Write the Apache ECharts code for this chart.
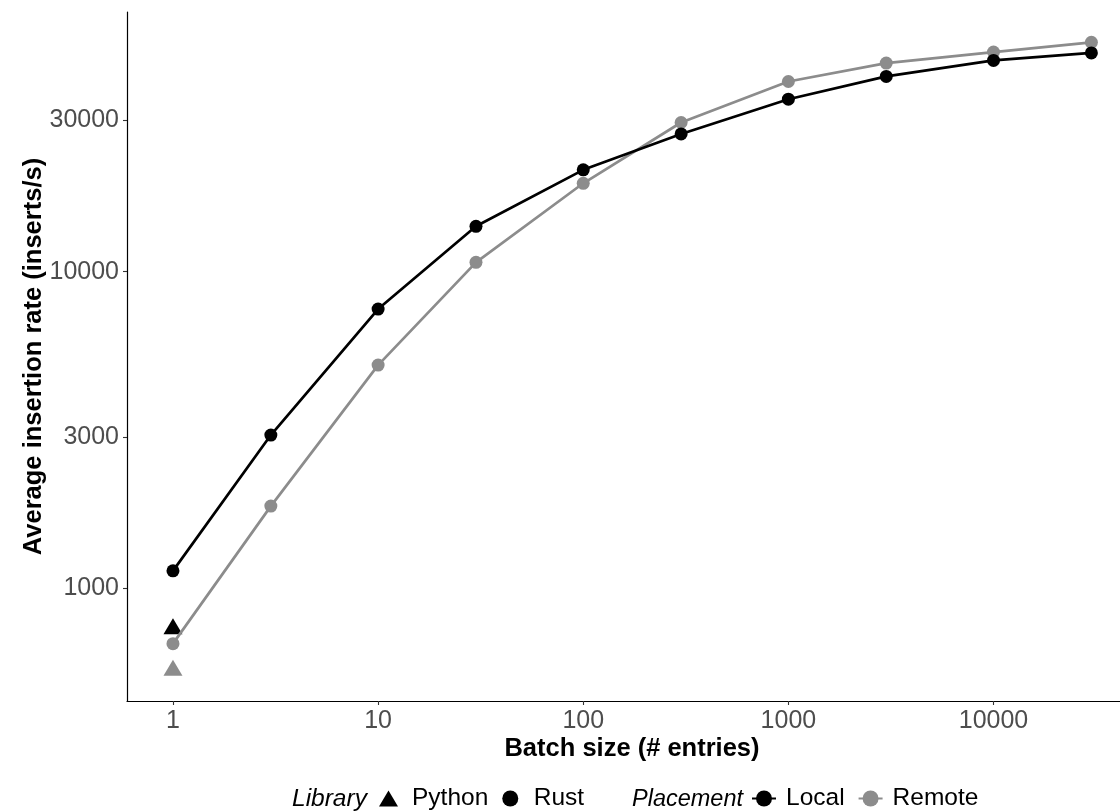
<!DOCTYPE html>
<html>
<head>
<meta charset="utf-8">
<script src="https://cdn.jsdelivr.net/npm/echarts@6/dist/echarts.min.js"></script>
<style>html,body{margin:0;padding:0;background:#fff}#chart{width:1120px;height:811px}</style>
</head>
<body>
<div id="chart"></div>
<script>
// ---- data ----
const batchSizes = [1, 3, 10, 30, 100, 300, 1000, 3000, 10000, 30000];
const rustLocal  = [1137, 3050, 7620, 13900, 20950, 27200, 35000, 41300, 46400, 49000];
const rustRemote = [670, 1820, 5070, 10700, 19000, 29550, 39800, 45500, 49300, 52900];
const pythonBatch = [1];
const pythonLocal = [760];
const pythonRemote = [562];
const xTicks = [1, 10, 100, 1000, 10000];
const yTicks = [1000, 3000, 10000, 30000];

const BLACK = '#000000', GREY = '#8C8C8C';
const FONT = '"Liberation Sans", Arial, Helvetica, sans-serif';

const pairs = (xs, ys) => xs.map((x, i) => [x, ys[i]]);

const chart = echarts.init(document.getElementById('chart'), null, {renderer: 'canvas'});
const lineSeries = (name, color, ys) => ({
  name: name, type: 'line', data: pairs(batchSizes, ys),
  symbol: 'circle', symbolSize: 13, showSymbol: true,
  lineStyle: {color: color, width: 2.7}, itemStyle: {color: color, opacity: 1},
  emphasis: {disabled: true}
});
const titleStyle = {fontFamily: FONT, fontSize: 25.5, fontWeight: 'bold', color: '#000'};
chart.setOption({
  animation: false,
  grid: {left: 127, top: 12, right: 0, bottom: 110, outerBoundsMode: 'none', containLabel: false},
  xAxis: {
    type: 'log', logBase: 10, min: 0.5969, max: 41360,
    name: 'Batch size (# entries)', nameLocation: 'middle', nameGap: 35, nameMoveOverlap: false,
    nameTextStyle: Object.assign({padding: [0, 0, 0, 17]}, titleStyle),
    axisLine: {lineStyle: {color: '#000', width: 1.2}},
    axisTick: {show: true, length: 4, lineStyle: {color: '#333', width: 1.1}, customValues: xTicks},
    axisLabel: {fontFamily: FONT, fontSize: 25, color: '#4D4D4D', margin: 8, customValues: xTicks,
      formatter: v => String(v)},
    splitLine: {show: false}, minorTick: {show: false}
  },
  yAxis: {
    type: 'log', logBase: 10, min: 441.6, max: 65960,
    name: 'Average insertion rate (inserts/s)', nameLocation: 'middle', nameGap: 80, nameRotate: 90,
    nameMoveOverlap: false,
    nameTextStyle: titleStyle,
    axisLine: {lineStyle: {color: '#000', width: 1.2}},
    axisTick: {show: true, length: 4, lineStyle: {color: '#333', width: 1.1}, customValues: yTicks},
    axisLabel: {fontFamily: FONT, fontSize: 25, color: '#4D4D4D', margin: 8, customValues: yTicks,
      formatter: v => String(v)},
    splitLine: {show: false}, minorTick: {show: false}
  },
  legend: [
    {
      left: 379, top: 786, padding: 0, orient: 'horizontal', selectedMode: false,
      itemWidth: 19, itemHeight: 16, itemGap: 14,
      data: [
        {name: 'Python', icon: 'triangle'},
        {name: 'Rust', icon: 'path://M8,0A8,8,0,1,1,8,16A8,8,0,1,1,8,0Z'}
      ],
      textStyle: {fontFamily: FONT, fontSize: 24.5, color: '#000', padding: [0, 0, 0, 9]}
    },
    {
      left: 751, top: 786, padding: 0, orient: 'horizontal', selectedMode: false,
      itemWidth: 24, itemHeight: 20, itemGap: 13,
      data: ['Local', 'Remote'],
      textStyle: {fontFamily: FONT, fontSize: 24.5, color: '#000', padding: [0, 0, 0, 5]}
    }
  ],
  graphic: [
    {type: 'text', x: 292, y: 799, style: {text: 'Library', font: 'italic 24.5px ' + FONT, fill: '#000', verticalAlign: 'middle'}},
    {type: 'text', x: 632, y: 799, style: {text: 'Placement', font: 'italic 23.5px ' + FONT, fill: '#000', verticalAlign: 'middle'}}
  ],
  series: [
    lineSeries('Remote', GREY, rustRemote),
    lineSeries('Local', BLACK, rustLocal),
    {name: 'Rust', type: 'scatter', data: [], symbol: 'circle', itemStyle: {color: BLACK, opacity: 1}},
    {name: 'Python', type: 'scatter', data: pairs(pythonBatch, pythonLocal), symbol: 'triangle',
      symbolSize: [19, 16], itemStyle: {color: BLACK, opacity: 1}, emphasis: {disabled: true}},
    {name: 'Python', type: 'scatter', data: pairs(pythonBatch, pythonRemote), symbol: 'triangle',
      symbolSize: [19, 16], itemStyle: {color: GREY, opacity: 1}, emphasis: {disabled: true}}
  ]
});
</script>
</body>
</html>
